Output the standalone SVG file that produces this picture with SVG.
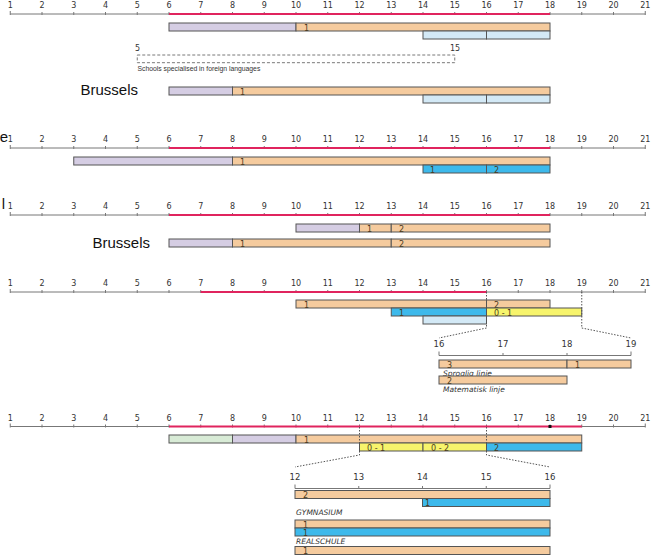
<svg xmlns="http://www.w3.org/2000/svg" width="652" height="557" viewBox="0 0 652 557">
<style>
.ax{stroke:#777;stroke-width:1;fill:none}
.red{stroke:#e0245e;stroke-width:2;fill:none}
.tl{font-family:"DejaVu Sans",sans-serif;font-size:8px;fill:#333;text-anchor:middle}
.il{font-family:"DejaVu Sans",sans-serif;font-size:8.5px;fill:#333;text-anchor:middle}
.bl{font-family:"DejaVu Sans",sans-serif;font-size:8px;fill:#4a3a20}
.b{stroke:#555;stroke-width:1}
.or{fill:#f5cb9e}
.pu{fill:#d5cde3}
.lb{fill:#d3e9f6}
.bb{fill:#3db9eb}
.ye{fill:#f7f46c}
.gr{fill:#d8ebd6}
.dot{stroke:#555;stroke-width:1;stroke-dasharray:1.5,1.5;fill:none}
.big{font-family:"Liberation Sans",Arial,sans-serif;font-size:15px;fill:#111;text-anchor:end}
.it{font-family:"DejaVu Sans",sans-serif;font-size:7.5px;font-style:italic;fill:#333}
</style>
<defs>
<g id="axisFull">
<path class="ax" d="M10.25,0H645.25M10.25,-3v4M42,-2v3M73.75,-2v3M105.5,-2v3M137.25,-2v3M169,-2v3M200.75,-2v3M232.5,-2v3M264.25,-2v3M296,-2v3M327.75,-2v3M359.5,-2v3M391.25,-2v3M423,-2v3M454.75,-2v3M486.5,-2v3M518.25,-2v3M550,-2v3M581.75,-2v3M613.5,-2v3M645.25,-3v4"/>
<g class="tl">
<text x="10.25" y="-6">1</text><text x="42" y="-6">2</text><text x="73.75" y="-6">3</text><text x="105.5" y="-6">4</text><text x="137.25" y="-6">5</text><text x="169" y="-6">6</text><text x="200.75" y="-6">7</text><text x="232.5" y="-6">8</text><text x="264.25" y="-6">9</text><text x="296" y="-6">10</text><text x="327.75" y="-6">11</text><text x="359.5" y="-6">12</text><text x="391.25" y="-6">13</text><text x="423" y="-6">14</text><text x="454.75" y="-6">15</text><text x="486.5" y="-6">16</text><text x="518.25" y="-6">17</text><text x="550" y="-6">18</text><text x="581.75" y="-6">19</text><text x="613.5" y="-6">20</text><text x="645.25" y="-6">21</text>
</g>
</g>
</defs>

<!-- left labels (cut at the edge in the reference) -->
<text class="big" x="8" y="142">e</text>
<text class="big" x="5" y="209">l</text>

<!-- Axis 1 -->
<g id="axis1">
<use href="#axisFull" transform="translate(0,14)"/>
<path class="red" d="M169,14H550"/>
</g>
<g id="row1a">
<rect class="b pu" x="169" y="23" width="127" height="8"/>
<rect class="b or" x="296" y="23" width="254" height="8"/>
<text class="bl" x="304" y="30.5">1</text>
</g>
<g id="row1b">
<rect class="b lb" x="423" y="31" width="63.5" height="8"/>
<rect class="b lb" x="486.5" y="31" width="63.5" height="8"/>
</g>
<g id="foreignLang">
<text class="tl" x="137.5" y="51">5</text>
<text class="tl" x="455" y="51">15</text>
<rect x="137.25" y="55" width="317.5" height="7.7" fill="none" stroke="#555" stroke-width="0.8" stroke-dasharray="3,2"/>
<text x="137.5" y="71" font-family="Liberation Sans,Arial,sans-serif" font-size="6.8" fill="#333">Schools specialised in foreign languages</text>
</g>
<g id="brussels1">
<text class="big" x="138" y="95">Brussels</text>
<rect class="b pu" x="169" y="87" width="63.5" height="8"/>
<rect class="b or" x="232.5" y="87" width="317.5" height="8"/>
<text class="bl" x="240" y="94.5">1</text>
<rect class="b lb" x="423" y="95" width="63.5" height="8"/>
<rect class="b lb" x="486.5" y="95" width="63.5" height="8"/>
</g>

<!-- Axis 2 -->
<g id="axis2">
<use href="#axisFull" transform="translate(0,148)"/>
<path class="red" d="M169,148H550"/>
</g>
<g id="row2a">
<rect class="b pu" x="73.75" y="157" width="158.75" height="8"/>
<rect class="b or" x="232.5" y="157" width="317.5" height="8"/>
<text class="bl" x="240" y="164.5">1</text>
</g>
<g id="row2b">
<rect class="b bb" x="423" y="165" width="63.5" height="8"/>
<text class="bl" x="430" y="172.5">1</text>
<rect class="b bb" x="486.5" y="165" width="63.5" height="8"/>
<text class="bl" x="494" y="172.5">2</text>
</g>

<!-- Axis 3 -->
<g id="axis3">
<use href="#axisFull" transform="translate(0,215)"/>
<path class="red" d="M169,215H550"/>
</g>
<g id="row3a">
<rect class="b pu" x="296" y="224" width="63.5" height="8"/>
<rect class="b or" x="359.5" y="224" width="31.75" height="8"/>
<text class="bl" x="367" y="231.5">1</text>
<rect class="b or" x="391.25" y="224" width="158.75" height="8"/>
<text class="bl" x="399" y="231.5">2</text>
</g>
<g id="brussels2">
<text class="big" x="150" y="248">Brussels</text>
<rect class="b pu" x="169" y="239" width="63.5" height="8"/>
<rect class="b or" x="232.5" y="239" width="158.75" height="8"/>
<text class="bl" x="240" y="246.5">1</text>
<rect class="b or" x="391.25" y="239" width="158.75" height="8"/>
<text class="bl" x="399" y="246.5">2</text>
</g>

<!-- Axis 4 -->
<g id="axis4">
<use href="#axisFull" transform="translate(0,292)"/>
<path class="red" d="M200.75,292H486.5"/>
</g>
<g id="row4a">
<rect class="b or" x="296" y="300" width="190.5" height="8"/>
<text class="bl" x="304" y="307.5">1</text>
<rect class="b or" x="486.5" y="300" width="63.5" height="8"/>
<text class="bl" x="494" y="307.5">2</text>
</g>
<g id="row4b">
<rect class="b bb" x="391.25" y="308" width="95.25" height="8"/>
<text class="bl" x="399" y="315.5">1</text>
<rect class="b ye" x="486.5" y="308" width="95.25" height="8"/>
<text class="bl" x="494" y="315.5">0 - 1</text>
</g>
<g id="row4c">
<rect class="b lb" x="423" y="316" width="63.5" height="8"/>
</g>
<g id="inset1">
<path class="ax" d="M439,355.5H631M439,351.5v4M503,353v3M567,353v3M631,351.5v4"/>
<g class="il"><text x="439" y="347">16</text><text x="503" y="347">17</text><text x="567" y="347">18</text><text x="631" y="347">19</text></g>
<rect class="b or" x="439" y="360" width="128" height="8"/>
<text class="bl" x="447" y="367.5">3</text>
<rect class="b or" x="567" y="360" width="64" height="8"/>
<text class="bl" x="575" y="367.5">1</text>
<text class="it" x="443" y="376">Sproglig linje</text>
<rect class="b or" x="439" y="376" width="128" height="8"/>
<text class="bl" x="447" y="383.5">2</text>
<text class="it" x="443" y="392">Matematisk linje</text>
</g>

<!-- Axis 5 -->
<g id="axis5">
<use href="#axisFull" transform="translate(0,426.5)"/>
<path class="red" d="M169,426.5H581.75"/>
<rect x="548.5" y="425" width="3" height="3" fill="#111"/>
</g>
<g id="row5a">
<rect class="b gr" x="169" y="435" width="63.5" height="8"/>
<rect class="b pu" x="232.5" y="435" width="63.5" height="8"/>
<rect class="b or" x="296" y="435" width="285.75" height="8"/>
<text class="bl" x="304" y="442.5">1</text>
</g>
<g id="row5b">
<rect class="b ye" x="359.5" y="443" width="63.5" height="8"/>
<text class="bl" x="367" y="450.5">0 - 1</text>
<rect class="b ye" x="423" y="443" width="63.5" height="8"/>
<text class="bl" x="431" y="450.5">0 - 2</text>
<rect class="b bb" x="486.5" y="443" width="95.25" height="8"/>
<text class="bl" x="494" y="450.5">2</text>
</g>
<g id="inset2">
<path class="ax" d="M295,488.5H550M295,484.5v4M358.75,486v3M422.5,486v3M486.25,486v3M550,484.5v4"/>
<g class="il"><text x="295" y="479.5">12</text><text x="358.75" y="479.5">13</text><text x="422.5" y="479.5">14</text><text x="486.25" y="479.5">15</text><text x="550" y="479.5">16</text></g>
<rect class="b or" x="295" y="490.5" width="255" height="8"/>
<text class="bl" x="303" y="498">2</text>
<rect class="b bb" x="422.5" y="498.5" width="127.5" height="8"/>
<text class="bl" x="425" y="506">1</text>
<text class="it" x="296" y="515">GYMNASIUM</text>
<rect class="b or" x="295" y="520" width="255" height="8"/>
<text class="bl" x="303" y="527.5">1</text>
<rect class="b bb" x="295" y="528" width="255" height="8"/>
<text class="bl" x="303" y="535.5">1</text>
<text class="it" x="296" y="544">REALSCHULE</text>
<rect class="b or" x="295" y="546.5" width="255" height="8"/>
<text class="bl" x="303" y="554">1</text>
</g>

<!-- connectors -->
<g id="connectors">
<path class="dot" d="M486.5,292V328L439,338"/>
<path class="dot" d="M581.75,292V328L631,338"/>
<path class="dot" d="M359.5,427V455L295,467"/>
<path class="dot" d="M486.5,427V455L550,467"/>
</g>
</svg>
